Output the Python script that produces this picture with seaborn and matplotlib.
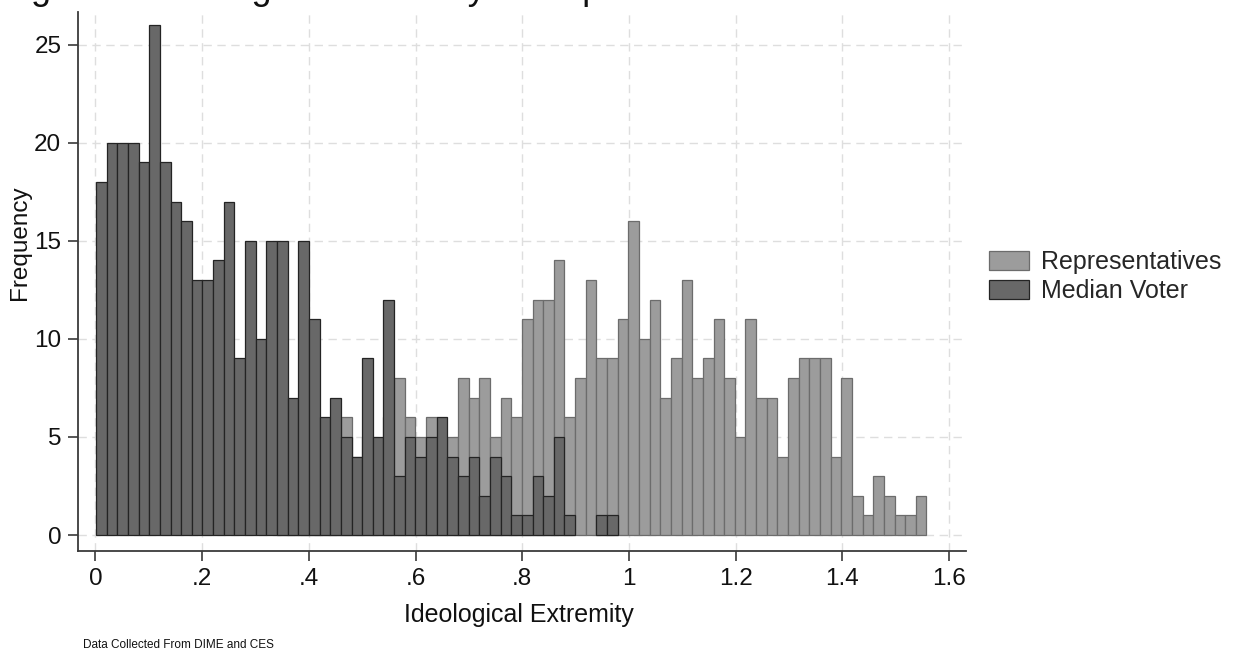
import numpy as np
import pandas as pd
import matplotlib
matplotlib.use("Agg")
import matplotlib.pyplot as plt
import seaborn as sns
from matplotlib.patches import Patch

# Frequency per bin of ideological extremity (78 equal-width bins)
representatives = [
    0, 0, 0, 0, 0, 0, 0, 0, 0, 0, 0, 0, 0, 0, 0, 0, 0, 1, 1, 2,
    2, 3, 3, 6, 4, 5, 4, 6, 8, 6, 5, 6, 5, 5, 8, 7, 8, 5, 7, 6,
    11, 12, 12, 14, 6, 8, 13, 9, 9, 11, 16, 10, 12, 7, 9, 13, 8, 9, 11, 8,
    5, 11, 7, 7, 4, 8, 9, 9, 9, 4, 8, 2, 1, 3, 2, 1, 1, 2,
]
median_voter = [
    18, 20, 20, 20, 19, 26, 19, 17, 16, 13, 13, 14, 17, 9, 15, 10, 15, 15, 7, 15,
    11, 6, 7, 5, 4, 9, 5, 12, 3, 5, 4, 5, 6, 4, 3, 4, 2, 4, 3, 1,
    1, 3, 2, 5, 1, 0, 0, 1, 1, 0, 0, 0, 0, 0, 0, 0, 0, 0, 0, 0,
    0, 0, 0, 0, 0, 0, 0, 0, 0, 0, 0, 0, 0, 0, 0, 0, 0, 0,
]
series_names = ["Representatives", "Median Voter"]
x_ticks = [0, 0.2, 0.4, 0.6, 0.8, 1.0, 1.2, 1.4, 1.6]
x_tick_labels = ["0", ".2", ".4", ".6", ".8", "1", "1.2", "1.4", "1.6"]
y_ticks = [0, 5, 10, 15, 20, 25]

bin_start = 0.001
bin_width = 0.01996

light_fill, light_edge = "#9c9c9c", "#6c6c6c"
dark_fill, dark_edge = "#686868", "#242424"
axis_color = "#3a3a3a"

sns.set_theme(style="white")
plt.rcParams["font.family"] = ["Liberation Sans", "DejaVu Sans"]

n_bins = len(representatives)
edges = list(bin_start + bin_width * np.arange(n_bins + 1))
centers = [(a + b) / 2 for a, b in zip(edges[:-1], edges[1:])]
reps_df = pd.DataFrame({"extremity": centers, "count": representatives})
voter_df = pd.DataFrame({"extremity": centers, "count": median_voter})

fig = plt.figure(figsize=(12.38, 6.56), dpi=100)
ax = fig.add_axes([0.0630, 0.1593, 0.7173, 0.8224])

sns.histplot(data=reps_df, x="extremity", weights="count", bins=edges, ax=ax,
             color=light_fill, edgecolor=light_edge, linewidth=0.9, alpha=1)
sns.histplot(data=voter_df, x="extremity", weights="count", bins=edges, ax=ax,
             color=dark_fill, edgecolor=dark_edge, linewidth=0.9, alpha=1)

# empty bins leave no outline on the baseline
for patch in ax.patches:
    if patch.get_height() == 0:
        patch.set_visible(False)

ax.set_xlim(-0.0328, 1.632)
ax.set_ylim(-0.84, 26.66)
ax.set_xticks(x_ticks)
ax.set_xticklabels(x_tick_labels)
ax.set_yticks(y_ticks)

ax.set_axisbelow(True)
ax.grid(True, linestyle=(0, (6, 4)), color="#dedede", linewidth=1.0)

for side in ["top", "right"]:
    ax.spines[side].set_visible(False)
for side in ["left", "bottom"]:
    ax.spines[side].set_color(axis_color)
    ax.spines[side].set_linewidth(1.3)

ax.tick_params(axis="both", which="major", bottom=True, left=True,
               direction="out", length=7, width=1.2, color=axis_color,
               labelsize=17.5, labelcolor="#111111", pad=5)

ax.set_xlabel("Ideological Extremity", fontsize=18, color="#111111")
ax.set_ylabel("Frequency", fontsize=17.5, color="#111111")
ax.xaxis.set_label_coords(0.4966, -0.096)
ax.yaxis.set_label_coords(-0.053, 0.572)

handles = [Patch(facecolor=light_fill, edgecolor=light_edge, linewidth=0.9),
           Patch(facecolor=dark_fill, edgecolor=dark_edge, linewidth=0.9)]
fig.legend(handles, series_names, loc="center left",
           bbox_to_anchor=(989 / 1238, 0.578), frameon=False, fontsize=18,
           handlelength=1.6, handleheight=0.8, handletextpad=0.48,
           labelspacing=0.2, borderpad=0, borderaxespad=0)

fig.text(83 / 1238, 11 / 656, "Data Collected From DIME and CES",
         fontsize=8.5, va="center", ha="left", color="#111111")
fig.text(1 / 1238, 1 + 1 / 656,
         "Figure 1: Ideological Extremity of Representatives and Median Voters",
         fontsize=26, va="baseline", ha="left", color="#111111")

fig.savefig("out.png", dpi=100)
